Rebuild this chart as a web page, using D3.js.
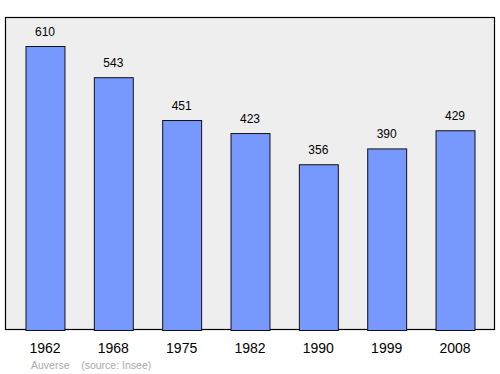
<!DOCTYPE html>
<html>
<head>
<meta charset="utf-8">
<script src="https://cdn.jsdelivr.net/npm/d3@7"></script>
<style>
  body { margin: 0; background: #fff; }
  text { font-family: "Liberation Sans", Arial, sans-serif; }
</style>
</head>
<body>
<script>
// data
var years = ['1962', '1968', '1975', '1982', '1990', '1999', '2008']
var population = [610, 543, 451, 423, 356, 390, 429]
var commune = 'Auverse'
var source = '(source: Insee)'

var width = 500, height = 374

var svg = d3.select('body').append('svg')
    .attr('width', width)
    .attr('height', height)

// plot frame
svg.append('rect')
    .attr('x', 5.5).attr('y', 17.5)
    .attr('width', 489).attr('height', 312)
    .attr('fill', '#eeeeee')
    .attr('stroke', '#000')
    .attr('stroke-width', 1.2)

var x = d3.scaleBand()
    .domain(years)
    .range([5, 495])
    .paddingInner(0.43)
    .paddingOuter(0.3)

var y = d3.scaleLinear()
    .domain([0, 610])
    .range([330, 46])

var data = years.map(function (d, i) { return { year: d, value: population[i] } })

svg.selectAll('rect.bar')
    .data(data)
  .enter().append('rect')
    .attr('class', 'bar')
    .attr('x', function (d) { return x(d.year) + 0.5 })
    .attr('y', function (d) { return y(d.value) + 0.5 })
    .attr('width', x.bandwidth())
    .attr('height', function (d) { return y(0) - y(d.value) })
    .attr('fill', '#7799ff')
    .attr('stroke', '#111')
    .attr('stroke-width', 1)

// value labels
svg.selectAll('text.val')
    .data(data)
  .enter().append('text')
    .attr('class', 'val')
    .attr('x', function (d) { return x(d.year) + x.bandwidth() / 2 })
    .attr('y', function (d) { return y(d.value) - 10 })
    .attr('text-anchor', 'middle')
    .attr('font-size', 12)
    .attr('fill', '#000')
    .text(function (d) { return d.value })

// year labels
svg.selectAll('text.year')
    .data(years)
  .enter().append('text')
    .attr('class', 'year')
    .attr('x', function (d) { return x(d) + x.bandwidth() / 2 })
    .attr('y', 353)
    .attr('text-anchor', 'middle')
    .attr('font-size', 14)
    .attr('fill', '#000')
    .text(function (d) { return d })

svg.append('text')
    .attr('x', 31).attr('y', 369)
    .attr('font-size', 10.5)
    .attr('fill', '#aaaaaa')
    .attr('xml:space', 'preserve')
    .style('white-space', 'pre')
    .text(commune + '    ' + source)
</script>
</body>
</html>
